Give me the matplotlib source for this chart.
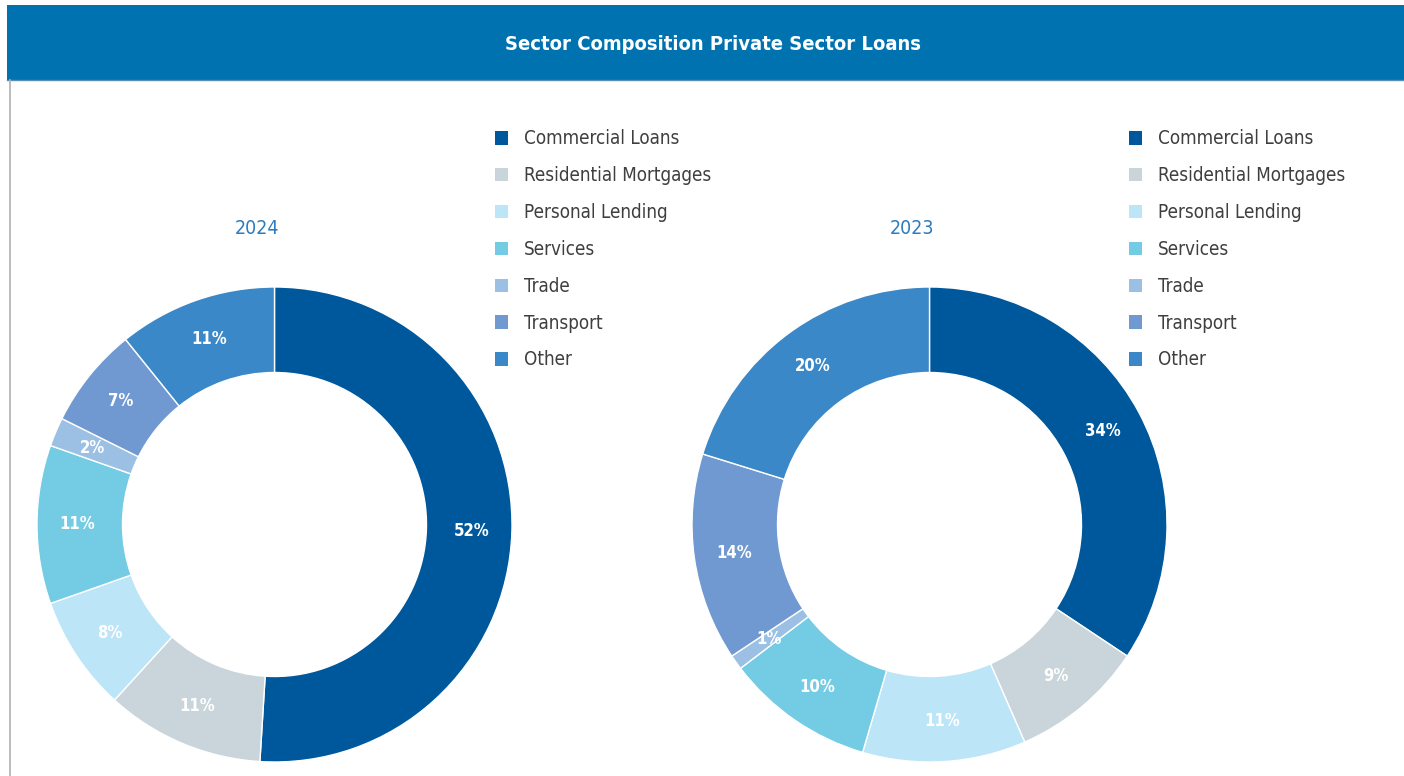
import matplotlib.pyplot as plt
from matplotlib.patches import Rectangle, Patch
from matplotlib.lines import Line2D

plt.rcParams['font.family'] = ['DejaVu Sans']
plt.rcParams['font.stretch'] = 'condensed'

# data
sectors = ["Commercial Loans", "Residential Mortgages", "Personal Lending",
           "Services", "Trade", "Transport", "Other"]
share_2024 = [52, 11, 8, 11, 2, 7, 11]
share_2023 = [34, 9, 11, 10, 1, 14, 20]
years = ["2024", "2023"]

colors = ["#00589c", "#c9d5da", "#bce5f7", "#74cce4", "#9bc0e4", "#6f99d0", "#3b88c8"]

W, H = 1404, 776
fig = plt.figure(figsize=(W / 100, H / 100), dpi=100)
fig.patch.set_facecolor("white")

# header bar
fig.patches.append(Rectangle((7 / W, 1 - 80 / H), 1 - 7 / W, 75 / H,
                             transform=fig.transFigure, facecolor="#0072b0",
                             edgecolor="none"))
fig.lines.append(Line2D([7 / W, 1], [1 - 80 / H, 1 - 80 / H], transform=fig.transFigure,
                        color="#5b8fb5", lw=1))
fig.lines.append(Line2D([9.5 / W, 9.5 / W], [0, 1 - 80 / H], transform=fig.transFigure,
                        color="#b0b0b0", lw=1.2))
fig.text(713 / W, 1 - 44 / H, "Sector Composition Private Sector Loans",
         color="white", fontsize=14.5, fontweight="bold", ha="center", va="center")


def donut(cx, values, year, legend_x):
    r = 237.5
    ax = fig.add_axes([(cx - r) / W, (H - 524.5 - r) / H, 2 * r / W, 2 * r / H])
    wedges, _, autotexts = ax.pie(
        values, colors=colors, startangle=90, counterclock=False,
        autopct=lambda p: "", pctdistance=0.83,
        wedgeprops=dict(width=0.36, edgecolor="white", linewidth=1))
    for t, v in zip(autotexts, values):
        t.set_text(f"{v}%")
        t.set_color("white")
        t.set_fontsize(12)
        t.set_fontweight("bold")
    ax.set_xlim(-1, 1)
    ax.set_ylim(-1, 1)
    ax.set_aspect("equal")
    ax.axis("off")

    fig.text((cx - 17) / W, 1 - 229 / H, year, color="#2b7bbf", fontsize=14,
             ha="center", va="center")

    handles = [Patch(facecolor=c, edgecolor="none") for c in colors]
    fig.legend(handles, sectors, loc="upper left",
               bbox_to_anchor=(legend_x / W, 1 - 122 / H),
               frameon=False, fontsize=13.5, handlelength=0.72, handleheight=0.72,
               handletextpad=0.85, labelspacing=0.95, borderaxespad=0,
               labelcolor="#3f3f3f")


donut(274.5, share_2024, years[0], 487)
donut(929.5, share_2023, years[1], 1121)

fig.savefig("out.png", dpi=100)
